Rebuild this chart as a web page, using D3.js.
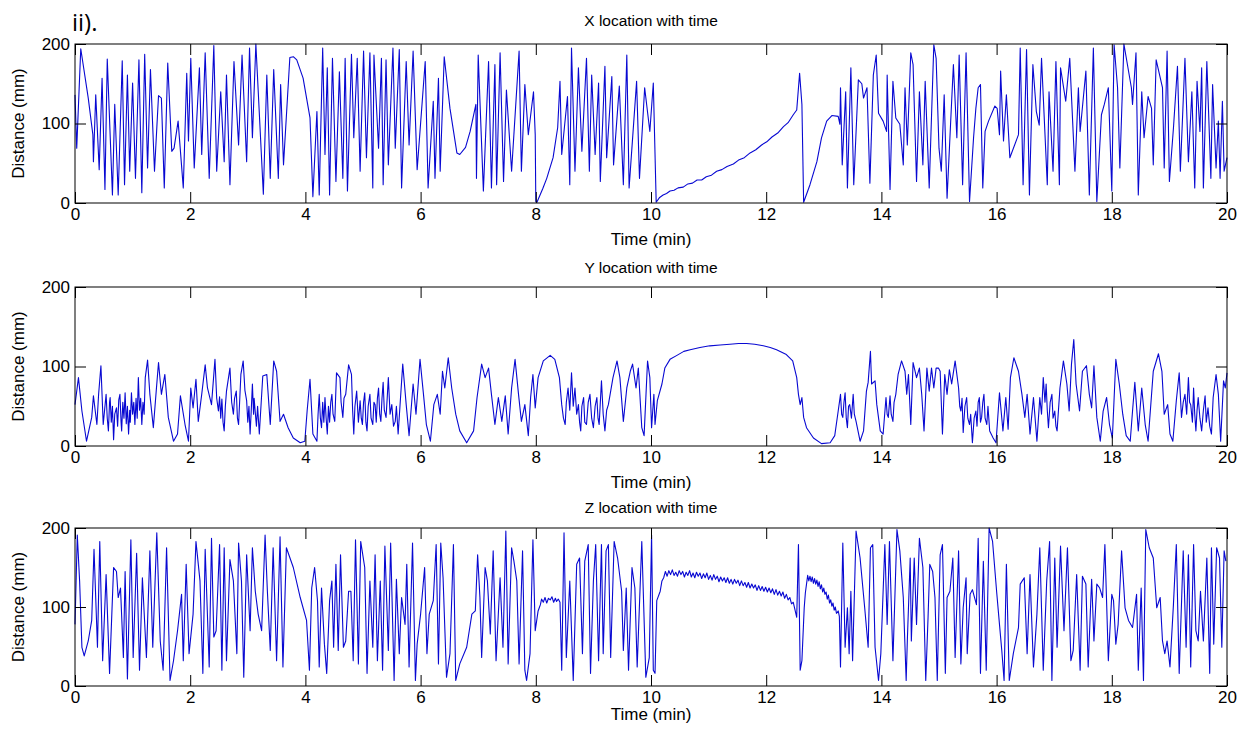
<!DOCTYPE html>
<html>
<head>
<meta charset="utf-8">
<script src="https://cdn.jsdelivr.net/npm/d3@7"></script>
<style>
  html, body { margin: 0; padding: 0; background: #fff; }
  svg { display: block; }
  .tick text { font-family: "Liberation Sans", Arial, sans-serif; font-size: 17px; fill: #000; }
  .tick line { stroke: #000; stroke-width: 1; }
</style>
</head>
<body>
<svg id="chart" width="1253" height="740"></svg>
<script>
// Time axis ticks (minutes) and distance ticks (mm)
const timeTicks = [0, 2, 4, 6, 8, 10, 12, 14, 16, 18, 20];
const distTicks = [0, 100, 200];
const panelTitles = ["X location with time", "Y location with time", "Z location with time"];

// X position of the tracked point, [time (min), distance (mm)]
const xLocation = [
  [0.00,136],[0.03,69],[0.10,194],[0.23,132],[0.31,86],[0.32,52],[0.36,136],[0.42,42],[0.47,157],[0.52,17],[0.56,181],[0.65,10],[0.69,124],[0.75,10],[0.82,179],[0.86,23],[0.91,161],[0.95,40],[1.00,151],[1.05,31],[1.11,180],[1.16,13],[1.21,187],[1.26,44],[1.31,168],[1.38,40],[1.45,135],[1.50,132],[1.55,19],[1.61,176],[1.68,65],[1.72,69],[1.79,103],[1.88,19],[1.94,163],[1.97,78],[2.01,182],[2.07,44],[2.16,170],[2.20,61],[2.26,189],[2.33,31],[2.41,198],[2.46,40],[2.53,140],[2.59,52],[2.63,161],[2.69,23],[2.76,178],[2.84,73],[2.90,186],[2.98,52],[3.03,195],[3.08,82],[3.14,200],[3.27,11],[3.33,161],[3.39,31],[3.45,168],[3.53,31],[3.57,149],[3.62,48],[3.73,183],[3.79,184],[3.85,180],[3.96,157],[4.08,107],[4.13,8],[4.20,115],[4.24,10],[4.30,195],[4.34,61],[4.38,170],[4.42,10],[4.47,182],[4.53,27],[4.59,165],[4.65,31],[4.69,182],[4.73,15],[4.80,187],[4.84,82],[4.90,182],[4.95,40],
  [5.01,191],[5.06,57],[5.12,189],[5.17,19],[5.19,186],[5.27,69],[5.32,182],[5.35,23],[5.40,180],[5.44,48],[5.52,195],[5.56,69],[5.63,193],[5.67,19],[5.75,178],[5.80,73],[5.87,191],[5.94,42],[6.08,178],[6.13,19],[6.22,128],[6.25,31],[6.31,157],[6.34,40],[6.41,184],[6.51,119],[6.63,63],[6.68,61],[6.78,70],[6.86,90],[6.96,124],[6.97,31],[7.00,186],[7.09,15],[7.18,178],[7.23,19],[7.29,174],[7.32,23],[7.38,189],[7.44,27],[7.49,142],[7.58,40],[7.71,191],[7.75,40],[7.81,149],[7.87,86],[7.96,140],[7.99,86],[8.00,2],[8.02,1],[8.12,18],[8.19,31],[8.30,57],[8.38,95],[8.42,153],[8.45,61],[8.55,134],[8.59,23],[8.62,195],[8.68,40],[8.74,170],[8.80,65],[8.88,182],[8.93,40],[8.97,161],[9.03,61],[9.09,151],[9.12,27],[9.20,172],[9.23,57],[9.32,159],[9.35,48],[9.45,147],[9.52,23],[9.58,186],[9.62,19],[9.75,153],[9.80,31],[9.89,145],[9.98,90],[10.04,151],[10.09,1],
  [10.15,7],[10.21,10],[10.27,12],[10.33,15],[10.40,16],[10.47,19],[10.56,20],[10.64,24],[10.72,25],[10.80,29],[10.88,29],[10.96,33],[11.05,35],[11.14,40],[11.23,42],[11.32,46],[11.43,49],[11.52,54],[11.62,57],[11.72,63],[11.82,67],[11.92,73],[12.01,77],[12.10,83],[12.20,88],[12.30,96],[12.38,101],[12.47,111],[12.53,117],[12.58,163],[12.62,124],[12.65,1],
  [12.76,23],[12.88,52],[12.96,82],[13.05,103],[13.14,110],[13.25,109],[13.28,99],[13.29,145],[13.32,48],[13.38,140],[13.41,19],[13.47,170],[13.52,23],[13.60,155],[13.66,150],[13.69,132],[13.75,145],[13.80,25],[13.86,161],[13.91,186],[13.95,113],[14.03,103],[14.09,90],[14.10,161],[14.15,17],[14.20,153],[14.25,107],[14.32,99],[14.38,48],[14.41,145],[14.45,73],[14.51,189],[14.55,174],[14.61,27],[14.66,140],[14.72,48],[14.76,153],[14.83,19],[14.91,199],[14.95,182],[15.00,69],[15.04,40],
  [15.09,136],[15.14,6],[15.20,98],[15.25,174],[15.31,82],[15.35,186],[15.41,23],[15.47,189],[15.53,2],[15.60,82],[15.64,119],[15.68,145],[15.72,149],[15.76,19],[15.80,90],[15.86,103],[15.97,122],[16.01,119],[16.05,86],[16.07,166],[16.12,78],[16.17,136],[16.23,57],[16.38,86],[16.41,195],[16.46,23],[16.52,193],[16.57,10],[16.63,174],[16.69,115],[16.74,98],[16.78,182],[16.88,23],[16.91,140],[16.98,40],[17.03,178],[17.09,23],[17.11,170],[17.20,128],[17.27,182],[17.36,40],[17.42,145],[17.45,90],[17.55,166],[17.61,10],[17.68,195],[17.74,2],[17.82,111],[17.87,124],[17.94,145],[18.00,15],[18.04,199],[18.10,145],[18.14,44],[18.21,200],[18.34,145],[18.36,124],[18.42,189],[18.46,10],[18.52,140],[18.56,82],[18.63,134],[18.69,119],[18.72,48],[18.77,180],[18.88,145],[18.91,44],[18.96,191],[19.00,27],[19.07,94],[19.14,172],[19.19,40],[19.27,182],[19.33,52],[19.39,140],[19.44,19],[19.48,153],[19.53,90],[19.56,170],[19.59,19],[19.65,178],[19.72,31],[19.75,149],[19.81,44],[19.85,103],[19.88,31],[19.92,128],[19.95,40],[20.00,57]
];

// Y position of the tracked point, [time (min), distance (mm)]
const yLocation = [
  [0.00,52],[0.06,86],[0.12,44],[0.20,6],[0.29,36],[0.32,63],[0.38,27],[0.41,65],[0.45,101],[0.49,27],
  [0.54,65],[0.56,35],[0.58,19],[0.60,55],[0.61,61],[0.63,30],[0.65,50],[0.67,8],[0.69,40],[0.72,48],[0.74,25],[0.76,58],[0.78,65],[0.80,30],[0.81,19],[0.83,55],[0.85,35],[0.87,67],[0.89,28],[0.91,50],[0.93,15],[0.95,45],[0.96,30],[0.98,67],[1.00,40],[1.02,55],[1.04,27],[1.06,60],[1.08,35],[1.10,86],[1.12,45],[1.14,60],[1.16,27],[1.18,55],[1.20,40],[1.22,86],[1.26,108],
  [1.30,65],[1.36,23],[1.41,69],[1.45,105],[1.50,65],[1.56,90],[1.62,36],[1.71,6],[1.78,15],[1.83,63],[1.91,27],[1.97,6],[2.01,73],[2.05,48],[2.10,84],[2.14,31],[2.20,65],[2.26,102],[2.30,73],[2.37,52],
  [2.43,109],[2.46,60],[2.49,44],[2.51,62],[2.53,35],[2.55,59],[2.57,30],[2.59,19],[2.61,50],[2.63,69],[2.69,98],[2.72,55],[2.75,40],[2.77,60],[2.80,69],[2.82,35],[2.84,27],[2.88,90],[2.92,107],[2.95,70],[2.98,57],[3.00,30],[3.02,50],[3.04,15],[3.06,45],[3.08,78],[3.10,40],[3.11,60],[3.13,42],[3.15,25],[3.17,50],[3.20,15],
  [3.26,88],[3.33,90],[3.39,27],[3.45,107],[3.50,94],[3.56,31],[3.62,40],[3.70,23],[3.79,10],[3.91,4],[3.99,6],[4.03,44],[4.08,84],[4.13,15],
  [4.20,6],[4.22,40],[4.24,65],[4.26,35],[4.28,23],[4.30,55],[4.32,30],[4.34,61],[4.36,35],[4.38,15],[4.40,50],[4.42,30],[4.44,55],[4.46,65],[4.48,40],[4.51,31],[4.54,92],[4.60,86],[4.62,55],[4.65,36],[4.67,60],[4.70,65],[4.75,102],[4.80,90],[4.82,45],[4.84,15],[4.86,50],[4.89,69],[4.92,30],
  [4.95,57],[4.97,35],[4.99,27],[5.01,55],[5.03,67],[5.05,30],[5.07,19],[5.09,50],[5.12,65],[5.14,35],[5.17,27],[5.19,55],[5.21,52],[5.23,30],[5.25,60],[5.27,73],[5.29,40],[5.31,31],[5.33,60],[5.35,80],[5.37,45],[5.40,36],[5.42,60],[5.44,86],[5.47,40],[5.50,52],[5.53,25],[5.56,31],[5.58,50],[5.61,15],
  [5.69,103],[5.75,52],[5.80,13],[5.87,78],[5.92,40],[5.99,109],[6.05,65],[6.10,27],[6.17,6],[6.23,52],[6.29,65],[6.34,40],[6.38,94],[6.42,73],[6.48,111],[6.54,73],[6.61,40],[6.68,19],[6.80,4],[6.92,19],[6.98,61],[7.06,103],[7.12,86],[7.18,98],[7.23,65],[7.29,27],[7.35,61],[7.41,31],[7.47,63],[7.52,15],[7.58,73],[7.64,109],[7.70,65],[7.75,31],[7.81,52],[7.87,13],[7.91,61],[7.95,90],[7.99,48],[8.04,86],[8.13,107],[8.25,114],[8.33,109],[8.41,86],
  [8.45,52],[8.48,35],[8.51,27],[8.53,55],[8.56,73],[8.59,45],[8.62,92],[8.65,50],[8.68,73],[8.71,40],[8.74,52],[8.76,30],[8.78,19],[8.80,50],[8.83,61],[8.85,30],[8.88,27],[8.91,55],[8.94,65],[8.97,35],[9.00,23],[9.03,50],[9.06,61],[9.08,35],[9.10,27],[9.14,82],[9.17,40],[9.20,19],[9.23,45],[9.26,52],
  [9.34,86],[9.41,107],[9.46,86],[9.52,31],[9.58,73],[9.64,94],[9.68,103],[9.74,73],[9.78,98],[9.84,23],[9.88,13],[9.94,107],[9.98,86],[10.01,23],[10.05,65],[10.07,27],[10.11,57],
  [10.19,78],[10.24,98],[10.33,109],[10.45,114],[10.57,119],[10.68,121],[10.85,124],[11.02,126],[11.20,127],[11.37,128],[11.52,129],[11.66,129],[11.80,128],[11.95,126],[12.07,124],[12.18,121],[12.35,115],[12.46,107],[12.53,86],[12.56,65],[12.59,52],[12.62,61],[12.65,36],[12.70,23],[12.82,10],[12.96,3],[13.11,4],[13.19,13],[13.25,44],[13.29,65],[13.31,40],[13.33,36],[13.35,55],[13.37,67],[13.39,35],[13.41,23],[13.43,50],[13.45,52],[13.48,35],[13.51,65],[13.53,40],[13.56,31],[13.63,6],[13.69,19],[13.74,69],[13.77,80],[13.81,119],[13.83,78],[13.89,82],[13.92,52],[13.98,19],[14.03,15],[14.08,61],[14.10,40],[14.12,36],[14.15,63],[14.17,40],[14.20,31],[14.22,55],[14.25,65],[14.29,90],[14.35,107],[14.41,94],[14.44,65],[14.47,90],[14.51,27],[14.55,105],[14.61,86],[14.66,98],[14.70,65],[14.74,19],[14.79,98],[14.83,69],[14.87,98],[14.91,73],[14.95,98],[14.99,98],
  [15.02,94],[15.06,15],[15.10,90],[15.14,65],[15.18,96],[15.22,78],[15.28,107],[15.34,73],[15.36,50],[15.38,44],[15.40,60],[15.42,17],[15.45,50],[15.48,61],[15.50,35],[15.53,27],[15.55,40],[15.58,4],[15.61,35],[15.64,44],[15.66,25],[15.68,55],[15.70,61],[15.72,30],[15.74,36],[15.76,55],[15.78,65],[15.80,35],[15.83,27],[15.85,50],[15.88,19],
  [15.94,10],[15.99,4],[16.05,67],[16.11,19],[16.16,61],[16.20,21],[16.24,86],[16.30,111],[16.38,94],[16.44,65],[16.49,36],[16.53,65],[16.58,15],[16.64,61],[16.70,6],
  [16.75,61],[16.78,40],[16.81,86],[16.84,55],[16.86,78],[16.88,45],[16.90,23],[16.93,55],[16.96,65],[16.98,35],[17.01,44],[17.03,25],[17.05,19],
  [17.10,73],[17.16,107],[17.22,78],[17.26,44],[17.30,103],[17.34,134],[17.38,78],[17.44,44],[17.49,94],[17.56,101],[17.61,65],[17.65,48],[17.69,101],[17.74,36],[17.80,6],[17.85,44],[17.91,61],[17.96,27],[18.01,10],[18.07,109],[18.13,78],[18.19,40],[18.25,13],[18.32,6],[18.36,44],[18.40,80],[18.46,19],[18.52,73],[18.58,27],[18.63,6],[18.72,94],[18.81,116],[18.87,94],[18.91,40],[18.97,52],[19.01,15],[19.06,6],[19.12,57],[19.17,92],
  [19.21,36],[19.24,55],[19.27,65],[19.30,40],[19.33,86],[19.35,55],[19.37,52],[19.40,30],[19.42,73],[19.44,40],[19.46,19],[19.48,45],[19.50,61],[19.53,35],[19.56,19],[19.59,45],[19.62,63],[19.64,30],[19.67,48],[19.70,25],[19.73,15],[19.76,61],
  [19.81,90],[19.85,65],[19.89,6],[19.94,82],[19.97,73],[20.00,92]
];

// Z position of the tracked point, [time (min), distance (mm)]
const zLocation = [
  [0.00,78],[0.04,191],[0.08,133],[0.12,49],[0.16,38],[0.23,57],[0.29,83],[0.33,173],[0.39,49],[0.43,183],[0.48,32],[0.54,141],[0.60,16],[0.67,150],[0.72,145],[0.75,112],[0.79,124],[0.84,36],[0.87,145],[0.91,9],[0.97,185],[1.01,36],[1.07,168],[1.12,20],[1.17,137],[1.24,36],[1.30,171],[1.35,49],[1.42,194],[1.48,57],[1.53,20],[1.59,175],[1.65,7],[1.71,32],[1.78,70],[1.85,116],[1.88,32],[1.93,154],[1.98,41],[2.05,91],[2.10,183],[2.17,133],[2.22,16],[2.26,173],[2.33,24],[2.37,187],[2.41,62],[2.45,70],[2.51,179],[2.55,20],[2.59,175],[2.63,32],[2.69,160],[2.75,133],[2.81,41],[2.84,181],[2.89,133],[2.93,11],[2.98,166],[3.04,70],[3.08,175],[3.13,120],[3.18,91],[3.24,70],[3.30,191],[3.34,120],[3.39,45],[3.44,175],[3.50,32],[3.56,189],[3.61,24],[3.67,175],[3.79,150],[3.91,112],[4.02,83],[4.07,20],[4.11,124],[4.16,150],[4.21,108],[4.24,24],[4.28,124],[4.33,53],[4.37,16],[4.42,108],[4.46,133],[4.49,49],[4.53,154],[4.57,45],[4.61,166],[4.66,49],[4.70,57],[4.75,120],[4.79,120],[4.83,32],[4.87,185],[4.92,28],[4.96,183],
  [5.03,150],[5.07,16],[5.12,133],[5.17,49],[5.21,166],[5.25,32],[5.30,133],[5.34,20],[5.38,177],[5.44,45],[5.48,181],[5.54,7],[5.58,135],[5.63,41],[5.67,112],[5.73,78],[5.76,154],[5.80,24],[5.86,181],[5.91,7],[5.94,53],[6.00,91],[6.07,150],[6.11,41],[6.15,91],[6.22,108],[6.27,179],[6.31,28],[6.35,181],[6.39,137],[6.45,11],[6.51,41],[6.57,179],[6.61,7],[6.68,28],[6.80,49],[6.89,91],[6.95,95],[6.99,166],[7.03,112],[7.06,36],[7.12,150],[7.16,133],[7.21,66],[7.26,171],[7.31,32],[7.38,137],[7.43,49],[7.48,196],[7.52,28],[7.58,175],[7.62,158],[7.67,133],[7.71,28],[7.77,171],[7.81,20],[7.84,7],[7.90,41],[7.95,185],[7.99,70],[8.04,95],[8.08,103],[8.10,110],[8.13,106],[8.16,112],[8.19,105],[8.22,111],[8.25,109],[8.28,113],[8.31,106],[8.34,111],[8.36,107],[8.39,110],[8.42,106],[8.45,20],[8.49,194],[8.53,36],[8.59,133],[8.65,7],[8.71,154],[8.76,162],[8.81,41],[8.85,158],[8.91,179],[8.95,16],[9.00,133],[9.04,179],[9.09,32],[9.14,179],[9.17,41],[9.22,171],[9.26,179],[9.30,36],[9.36,183],[9.42,162],[9.49,120],[9.52,45],[9.57,124],[9.61,20],[9.67,150],[9.72,124],[9.76,24],[9.84,183],[9.91,11],[9.97,36],[10.01,191],
  [10.04,20],[10.07,16],[10.10,108],[10.16,120],[10.19,133],
  [10.22,137],[10.25,145],[10.28,139],[10.31,146],[10.34,141],[10.37,147],[10.40,140],[10.43,144],[10.46,139],[10.49,146],[10.52,141],[10.55,145],[10.58,138],[10.61,144],[10.64,140],[10.67,146],[10.70,138],[10.73,143],[10.76,137],[10.79,144],[10.82,139],[10.85,143],[10.88,136],[10.91,142],[10.94,137],[10.97,143],[11.00,135],[11.03,140],[11.06,134],[11.09,141],[11.12,135],[11.15,139],[11.18,132],[11.21,138],[11.24,133],[11.27,137],[11.30,131],[11.33,137],[11.36,130],[11.39,135],[11.42,129],[11.45,135],[11.48,130],[11.51,134],[11.54,127],[11.57,133],[11.60,127],[11.63,131],[11.66,125],[11.69,131],[11.72,124],[11.75,129],[11.78,124],[11.81,128],[11.84,121],[11.87,127],[11.90,121],[11.93,126],[11.96,120],[11.99,125],[12.02,119],[12.05,124],[12.08,118],[12.11,123],[12.14,116],[12.17,122],[12.20,115],[12.23,120],[12.26,114],[12.29,119],[12.32,111],[12.35,116],[12.38,109],[12.41,112],[12.44,104],[12.47,106],
  [12.53,87],[12.56,179],[12.59,20],[12.62,32],
  [12.66,99],[12.68,118],[12.70,129],[12.72,140],[12.74,133],[12.76,139],[12.78,132],[12.80,138],[12.82,130],[12.84,136],[12.86,129],[12.88,134],[12.90,126],[12.92,132],[12.94,123],[12.96,128],[12.98,119],[13.00,124],[13.02,116],[13.04,119],[13.06,110],[13.08,115],[13.10,105],[13.12,109],[13.14,101],[13.16,105],[13.18,96],[13.20,100],[13.22,92],[13.25,95],[13.27,88],
  [13.29,24],[13.33,181],[13.37,49],[13.41,99],[13.44,41],[13.47,120],[13.50,32],[13.56,196],[13.63,162],[13.71,99],[13.77,49],[13.81,175],[13.85,179],[13.89,49],[13.95,7],[13.99,41],[14.06,179],[14.10,78],[14.14,183],[14.20,32],[14.27,198],[14.32,171],[14.38,112],[14.43,7],[14.45,57],[14.50,162],[14.52,57],[14.57,162],[14.61,78],[14.66,187],[14.72,150],[14.77,7],[14.81,87],[14.84,154],[14.89,145],[14.93,112],[14.97,7],[15.02,166],
  [15.06,179],[15.11,16],[15.14,112],[15.19,120],[15.24,162],[15.28,36],[15.34,171],[15.38,28],[15.42,99],[15.47,137],[15.49,41],[15.54,116],[15.58,122],[15.65,103],[15.68,187],[15.72,16],[15.77,158],[15.82,20],[15.87,200],[15.93,183],[16.00,120],[16.05,78],[16.09,45],[16.13,7],[16.17,154],[16.22,7],[16.29,41],[16.38,74],[16.41,129],[16.48,137],[16.53,41],[16.58,141],[16.64,24],[16.70,91],[16.75,175],[16.81,20],[16.87,133],[16.92,183],[16.96,7],[17.01,162],[17.05,49],[17.11,177],[17.17,70],[17.23,175],[17.29,32],[17.33,45],[17.39,141],[17.45,20],[17.49,139],[17.55,129],[17.59,24],[17.65,135],[17.69,57],[17.74,129],[17.79,124],[17.84,112],[17.88,179],[17.94,32],[18.00,116],[18.03,108],[18.07,53],[18.11,78],[18.17,171],[18.23,99],[18.29,83],[18.36,74],[18.43,116],[18.46,20],[18.51,124],[18.55,7],[18.59,198],[18.65,175],[18.72,162],[18.78,99],[18.84,112],[18.88,57],[18.92,41],[18.96,57],[19.01,24],[19.07,103],[19.12,179],[19.17,16],[19.24,171],[19.29,49],[19.33,166],[19.37,24],[19.42,179],[19.46,70],[19.50,57],[19.54,120],[19.59,57],[19.65,162],[19.70,16],[19.73,175],[19.77,53],[19.82,175],[19.87,162],[19.91,49],[19.95,171],[19.98,158]
];

const series = [xLocation, yLocation, zLocation];

const svg = d3.select("#chart");
const fontFamily = '"Liberation Sans", Arial, sans-serif';
const plotLeft = 75, plotRight = 1227;
// per-panel frame geometry and label offsets
const panelTops = [44, 287, 528];
const panelHeights = [159, 159, 158];
const titleGap = [18, 14, 15];
const xLabelGap = [42, 42, 34];
const tickLen = 11;

// Figure label
svg.append("text")
  .attr("x", 72).attr("y", 31)
  .attr("font-family", '"Open Sans", sans-serif')
  .attr("font-size", 24)
  .text("ii).");

const x = d3.scaleLinear().domain([0, 20]).range([plotLeft, plotRight]);

series.forEach((data, i) => {
  const top = panelTops[i];
  const bottom = top + panelHeights[i];
  const y = d3.scaleLinear().domain([0, 200]).range([bottom, top]);
  const g = svg.append("g");

  // trace
  g.append("path")
    .datum(data)
    .attr("fill", "none")
    .attr("stroke", "#0808d2")
    .attr("stroke-width", 1.1)
    .attr("stroke-linejoin", "round")
    .attr("d", d3.line().x(d => x(d[0])).y(d => y(d[1])));

  // axes with inward ticks on all four sides
  const bottomAxis = g.append("g").attr("transform", `translate(0,${bottom})`)
    .call(d3.axisBottom(x).tickValues(timeTicks).tickFormat(d3.format("d"))
      .tickSizeInner(-tickLen).tickSizeOuter(0).tickPadding(4));
  const topAxis = g.append("g").attr("transform", `translate(0,${top})`)
    .call(d3.axisTop(x).tickValues(timeTicks).tickFormat("")
      .tickSizeInner(-tickLen).tickSizeOuter(0));
  const leftAxis = g.append("g").attr("transform", `translate(${plotLeft},0)`)
    .call(d3.axisLeft(y).tickValues(distTicks).tickFormat(d3.format("d"))
      .tickSizeInner(-tickLen).tickSizeOuter(0).tickPadding(5));
  const rightAxis = g.append("g").attr("transform", `translate(${plotRight},0)`)
    .call(d3.axisRight(y).tickValues(distTicks).tickFormat("")
      .tickSizeInner(-tickLen).tickSizeOuter(0));
  [bottomAxis, topAxis, leftAxis, rightAxis].forEach(a => a.select(".domain").remove());
  bottomAxis.selectAll("text").attr("dy", "0.75em");

  // frame
  g.append("rect")
    .attr("x", plotLeft).attr("y", top)
    .attr("width", plotRight - plotLeft).attr("height", bottom - top)
    .attr("fill", "none").attr("stroke", "#000").attr("stroke-width", 1);

  // title and axis labels
  g.append("text")
    .attr("x", (plotLeft + plotRight) / 2).attr("y", top - titleGap[i])
    .attr("text-anchor", "middle").attr("font-family", fontFamily).attr("font-size", 15.5)
    .text(panelTitles[i]);
  g.append("text")
    .attr("x", (plotLeft + plotRight) / 2).attr("y", bottom + xLabelGap[i])
    .attr("text-anchor", "middle").attr("font-family", fontFamily).attr("font-size", 17)
    .text("Time (min)");
  g.append("text")
    .attr("transform", `translate(24,${(top + bottom) / 2}) rotate(-90)`)
    .attr("text-anchor", "middle").attr("font-family", fontFamily).attr("font-size", 17)
    .text("Distance (mm)");
});
</script>
</body>
</html>
